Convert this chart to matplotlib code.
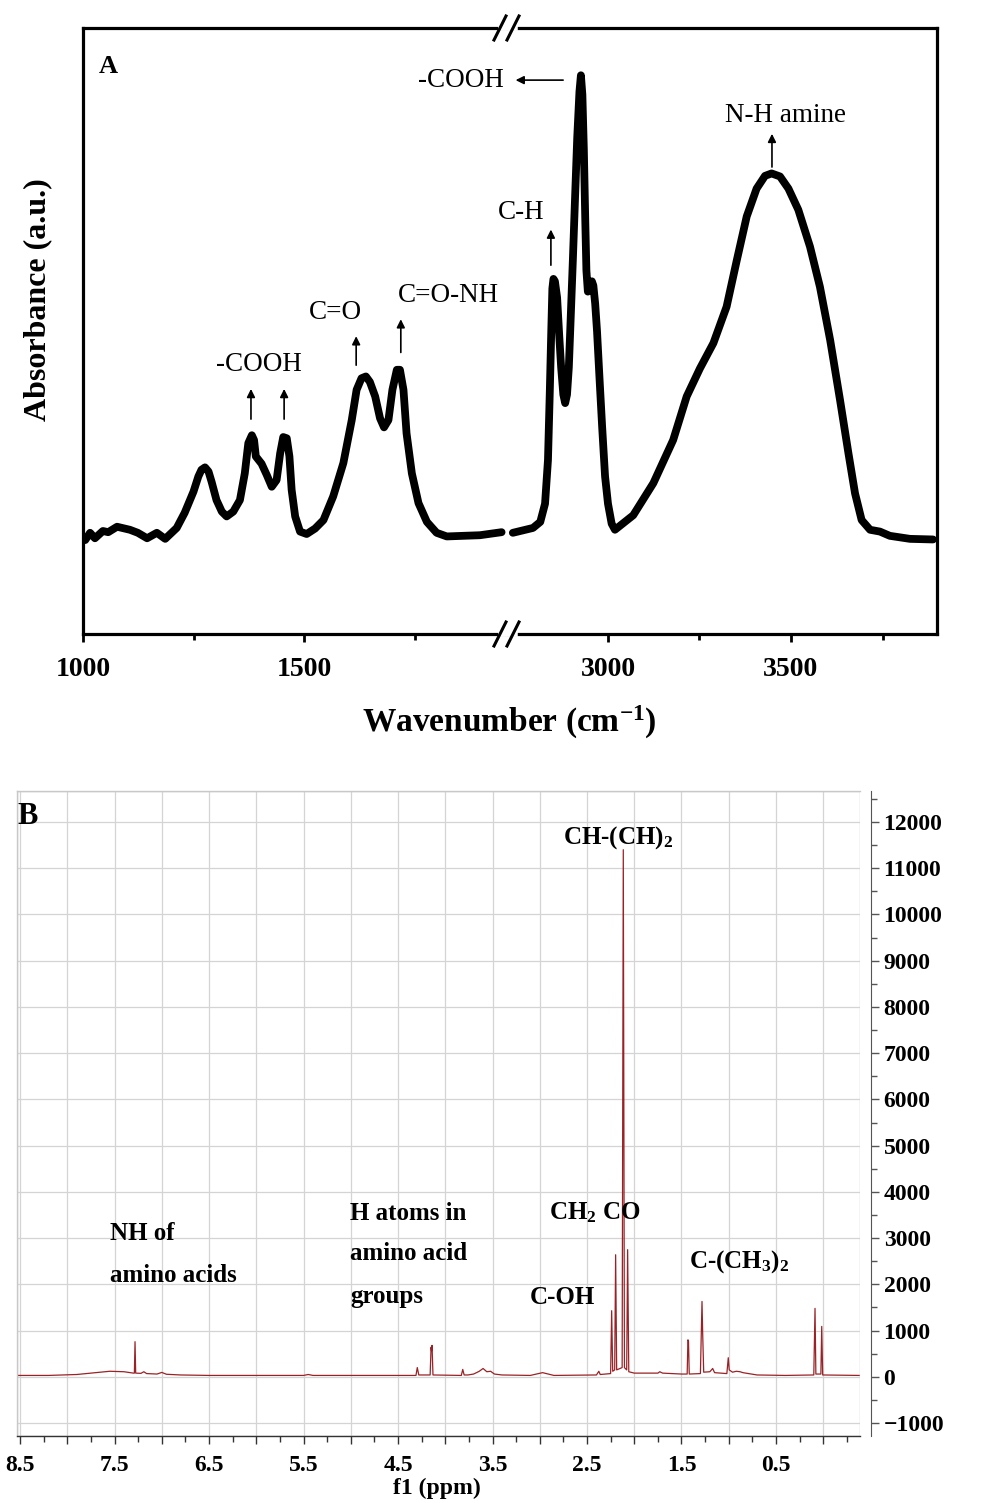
import matplotlib
matplotlib.use('Agg')
import matplotlib.pyplot as plt
from matplotlib.lines import Line2D
from matplotlib.patches import Rectangle
from matplotlib.ticker import MultipleLocator, FuncFormatter

plt.rcParams['font.family'] = ['Liberation Serif', 'DejaVu Serif']
plt.rcParams['mathtext.fontset'] = 'custom'
plt.rcParams['mathtext.rm'] = 'Liberation Serif'
plt.rcParams['mathtext.bf'] = 'Liberation Serif:bold'
plt.rcParams['mathtext.it'] = 'Liberation Serif:italic'

# ---- FTIR (panel A) ----
ftir_low_wn = [1005, 1016, 1027, 1045, 1057, 1077, 1106, 1124, 1145, 1167, 1186, 1212,
               1230, 1250, 1261, 1268, 1276, 1284, 1291, 1302, 1314, 1325, 1340, 1355,
               1366, 1374, 1382, 1387, 1391, 1404, 1416, 1427, 1438, 1446, 1453, 1461,
               1467, 1472, 1480, 1491, 1506, 1525, 1544, 1566, 1589, 1608, 1619, 1630,
               1640, 1649, 1661, 1672, 1681, 1691, 1700, 1710, 1717, 1725, 1732, 1744,
               1759, 1778, 1800, 1823, 1860, 1898, 1947]
ftir_low_abs = [0.155, 0.167, 0.158, 0.170, 0.168, 0.177, 0.172, 0.167, 0.158, 0.167, 0.157, 0.175,
                0.200, 0.235, 0.260, 0.271, 0.275, 0.268, 0.251, 0.221, 0.202, 0.194, 0.202, 0.221,
                0.265, 0.315, 0.328, 0.320, 0.293, 0.281, 0.262, 0.243, 0.254, 0.298, 0.325, 0.323,
                0.293, 0.238, 0.194, 0.169, 0.165, 0.174, 0.188, 0.227, 0.282, 0.353, 0.403, 0.422,
                0.425, 0.416, 0.392, 0.356, 0.341, 0.353, 0.403, 0.436, 0.436, 0.403, 0.331, 0.265,
                0.216, 0.185, 0.167, 0.161, 0.162, 0.163, 0.168]
ftir_high_wn = [2740, 2795, 2815, 2828, 2836, 2841, 2845, 2848, 2851, 2855, 2861, 2867,
                2872, 2878, 2883, 2888, 2893, 2898, 2904, 2910, 2916, 2922, 2926, 2930,
                2934, 2938, 2941, 2945, 2950, 2956, 2960, 2965, 2970, 2977, 2984, 2992,
                3000, 3010, 3019, 3069, 3124, 3178, 3215, 3251, 3288, 3324, 3352, 3379,
                3406, 3429, 3447, 3470, 3493, 3520, 3552, 3579, 3607, 3634, 3657, 3675,
                3693, 3716, 3743, 3770, 3825, 3888]
ftir_high_abs = [0.167, 0.175, 0.185, 0.215, 0.287, 0.400, 0.500, 0.570, 0.586, 0.582, 0.555, 0.490,
                 0.440, 0.395, 0.381, 0.395, 0.440, 0.520, 0.617, 0.720, 0.820, 0.895, 0.922, 0.890,
                 0.800, 0.680, 0.600, 0.565, 0.572, 0.582, 0.575, 0.545, 0.500, 0.420, 0.342, 0.260,
                 0.215, 0.182, 0.172, 0.196, 0.249, 0.320, 0.392, 0.438, 0.480, 0.540, 0.617, 0.689,
                 0.735, 0.756, 0.760, 0.755, 0.735, 0.700, 0.639, 0.573, 0.485, 0.386, 0.298, 0.232,
                 0.188, 0.172, 0.169, 0.162, 0.157, 0.156]
ftir_low_ticks = [1000, 1500]
ftir_low_minor = [1250, 1750]
ftir_high_ticks = [3000, 3500]
ftir_high_minor = [3250, 3750]

# ---- 1H NMR (panel B) ----
nmr_ppm = [8.53, 8.2, 7.9, 7.7, 7.55, 7.40, 7.30, 7.29, 7.283, 7.276, 7.22, 7.19, 7.16,
           7.05, 7.00, 6.95, 6.80, 6.50, 5.50, 5.45, 5.40, 4.90, 4.31, 4.296, 4.28,
           4.16, 4.15, 4.145, 4.14, 4.13, 3.83, 3.815, 3.80, 3.76, 3.70, 3.64, 3.60,
           3.56, 3.52, 3.48, 3.40, 3.10, 2.97, 2.85, 2.40, 2.375, 2.36, 2.25, 2.239,
           2.228, 2.207, 2.197, 2.186, 2.128, 2.116, 2.104, 2.08, 2.070, 2.058, 2.00,
           1.75, 1.73, 1.70, 1.50, 1.44, 1.432, 1.426, 1.418, 1.30, 1.283, 1.276,
           1.265, 1.20, 1.17, 1.15, 1.02, 1.005, 0.995, 0.96, 0.92, 0.88, 0.85, 0.70,
           0.40, 0.10, 0.087, 0.078, 0.025, 0.016, 0.006, -0.38]
nmr_int = [30, 30, 50, 90, 120, 110, 80, 80, 760, 80, 75, 110, 70,
           60, 95, 55, 40, 30, 30, 50, 30, 30, 30, 200, 40,
           40, 640, 560, 680, 40, 30, 160, 40, 40, 60, 120, 180,
           110, 120, 60, 40, 30, 90, 30, 40, 120, 50, 70, 1430,
           120, 150, 2640, 150, 200, 11400, 200, 150, 2750, 110, 80,
           80, 110, 80, 60, 60, 800, 780, 60, 70, 1630, 950,
           100, 110, 180, 90, 70, 413, 150, 100, 120, 110, 90, 40,
           30, 40, 1480, 60, 60, 1090, 40, 30]
nmr_xticks = [8.5, 7.5, 6.5, 5.5, 4.5, 3.5, 2.5, 1.5, 0.5]

W, H = 988, 1503
fig = plt.figure(figsize=(W / 100, H / 100), dpi=100)


def box(x0, y0, x1, y1):
    return [x0 / W, 1 - y1 / H, (x1 - x0) / W, (y1 - y0) / H]


def px(x, y):
    return x / W, 1 - y / H


# ================= panel A =================
axL = fig.add_axes(box(83, 28, 508, 634))
axR = fig.add_axes(box(508, 28, 937, 634))
axL.set_xlim(1000, 1961.5)
axR.set_xlim(2726.8, 3898.9)
for ax in (axL, axR):
    ax.set_ylim(0, 1)
    ax.set_yticks([])
    for s in ax.spines.values():
        s.set_linewidth(2.3)
    ax.tick_params(axis='x', which='major', direction='out', length=5.5, width=2.0,
                   pad=11, labelsize=20)
    ax.tick_params(axis='x', which='minor', direction='out', length=4.5, width=2.0)
axL.spines['right'].set_visible(False)
axR.spines['left'].set_visible(False)
axL.set_xticks(ftir_low_ticks)
axL.set_xticks(ftir_low_minor, minor=True)
axR.set_xticks(ftir_high_ticks)
axR.set_xticks(ftir_high_minor, minor=True)
for ax in (axL, axR):
    for lab in ax.get_xticklabels():
        lab.set_fontweight('bold')

axL.plot(ftir_low_wn, ftir_low_abs, color='black', lw=5.6,
         solid_joinstyle='round', solid_capstyle='round')
axR.plot(ftir_high_wn, ftir_high_abs, color='black', lw=5.6,
         solid_joinstyle='round', solid_capstyle='round')

# axis break marks
for yb in (28, 634):
    fig.add_artist(Line2D([px(501, yb)[0], px(515, yb)[0]], [px(0, yb)[1]] * 2,
                          color='white', lw=4, transform=fig.transFigure))
    for xc in (500, 513):
        fig.add_artist(Line2D([px(xc - 6, yb + 12)[0], px(xc + 6, yb - 12)[0]],
                              [px(0, yb + 12)[1], px(0, yb - 12)[1]],
                              color='black', lw=2.2, transform=fig.transFigure))

arrow = dict(arrowstyle='-|>', color='black', lw=1.2, mutation_scale=12)
txt = dict(fontsize=19.5, ha='center', va='center')
axL.text(1057, 0.937, 'A', fontsize=19, fontweight='bold', ha='center', va='center')
axR.text(2598, 0.914, '-COOH', **txt)
axR.annotate('', xy=(2740, 0.914), xytext=(2885, 0.914), arrowprops=arrow)
axR.text(3484, 0.856, 'N-H amine', **txt)
axR.annotate('', xy=(3448, 0.830), xytext=(3448, 0.766), arrowprops=arrow)
axR.text(2762, 0.695, 'C-H', **txt)
axR.annotate('', xy=(2844, 0.672), xytext=(2844, 0.604), arrowprops=arrow)
axL.text(1572, 0.531, 'C=O', **txt)
axL.annotate('', xy=(1618, 0.496), xytext=(1618, 0.439), arrowprops=arrow)
axL.text(1826, 0.559, 'C=O-NH', **txt)
axL.annotate('', xy=(1719, 0.524), xytext=(1719, 0.460), arrowprops=arrow)
axL.text(1398, 0.444, '-COOH', **txt)
axL.annotate('', xy=(1380, 0.409), xytext=(1380, 0.350), arrowprops=arrow)
axL.annotate('', xy=(1455, 0.409), xytext=(1455, 0.350), arrowprops=arrow)

fig.text(*px(509, 722), r'Wavenumber (cm$^{\mathbf{-1}}$)', fontsize=24,
         fontweight='bold', ha='center', va='center')
fig.text(*px(38, 300), 'Absorbance (a.u.)', fontsize=23, fontweight='bold',
         rotation=90, ha='center', va='center')

# ================= panel B =================
axB = fig.add_axes(box(17, 791, 860, 1436))
axB.set_xlim(8.532, -0.389)
axB.set_ylim(-1280, 12670)
axB.plot(nmr_ppm, nmr_int, color='#9a2226', lw=0.9)

axB.xaxis.set_major_locator(MultipleLocator(0.5))
axB.xaxis.set_minor_locator(MultipleLocator(0.25))
axB.xaxis.set_major_formatter(FuncFormatter(
    lambda v, pos: ('%.1f' % v) if any(abs(v - t) < 1e-6 for t in nmr_xticks) else ''))
axB.yaxis.set_major_locator(MultipleLocator(1000))
axB.yaxis.set_minor_locator(MultipleLocator(500))
axB.yaxis.tick_right()
axB.grid(True, which='major', color='#d4d4d4', lw=0.9)
axB.set_axisbelow(True)

for s in ('top', 'left'):
    axB.spines[s].set_color('#c8c8c8')
    axB.spines[s].set_linewidth(1.0)
axB.spines['bottom'].set_color('#333333')
axB.spines['bottom'].set_linewidth(1.0)
axB.spines['right'].set_position(('outward', 8))
axB.spines['right'].set_color('#555555')
axB.add_patch(Rectangle((0, 0), 1, 1, transform=axB.transAxes, fill=False,
                        ec='#c8c8c8', lw=1.0, zorder=0.5))
axB.tick_params(axis='x', which='major', direction='out', length=6, width=1,
                color='#333333', pad=8, labelsize=17)
axB.tick_params(axis='x', which='minor', direction='out', length=4, width=1,
                color='#333333')
axB.tick_params(axis='y', which='major', direction='out', length=6, width=1,
                color='#555555', pad=3, labelsize=17, right=True, left=False,
                labelright=True, labelleft=False)
axB.tick_params(axis='y', which='minor', direction='out', length=4, width=1,
                color='#555555', right=True, left=False)
for lab in axB.get_xticklabels() + axB.get_yticklabels():
    lab.set_fontweight('bold')

fig.text(*px(437, 1488), 'f1 (ppm)', fontsize=17, fontweight='bold',
         ha='center', va='center')

bt = dict(fontsize=18, fontweight='bold', va='center')
fig.text(*px(28, 816), 'B', fontsize=22, fontweight='bold', ha='center', va='center')
fig.text(*px(618, 838), r'CH-(CH)$_\mathbf{2}$', ha='center', **bt)
fig.text(*px(110, 1233), 'NH of', ha='left', **bt)
fig.text(*px(110, 1275), 'amino acids', ha='left', **bt)
fig.text(*px(350, 1213), 'H atoms in', ha='left', **bt)
fig.text(*px(350, 1254), 'amino acid', ha='left', **bt)
fig.text(*px(350, 1296), 'groups', ha='left', **bt)
fig.text(*px(595, 1213), r'CH$_\mathbf{2}$ CO', ha='center', **bt)
fig.text(*px(562, 1298), 'C-OH', ha='center', **bt)
fig.text(*px(739, 1262), r'C-(CH$_\mathbf{3}$)$_\mathbf{2}$', ha='center', **bt)

fig.savefig('out.png', dpi=100, facecolor='white')
